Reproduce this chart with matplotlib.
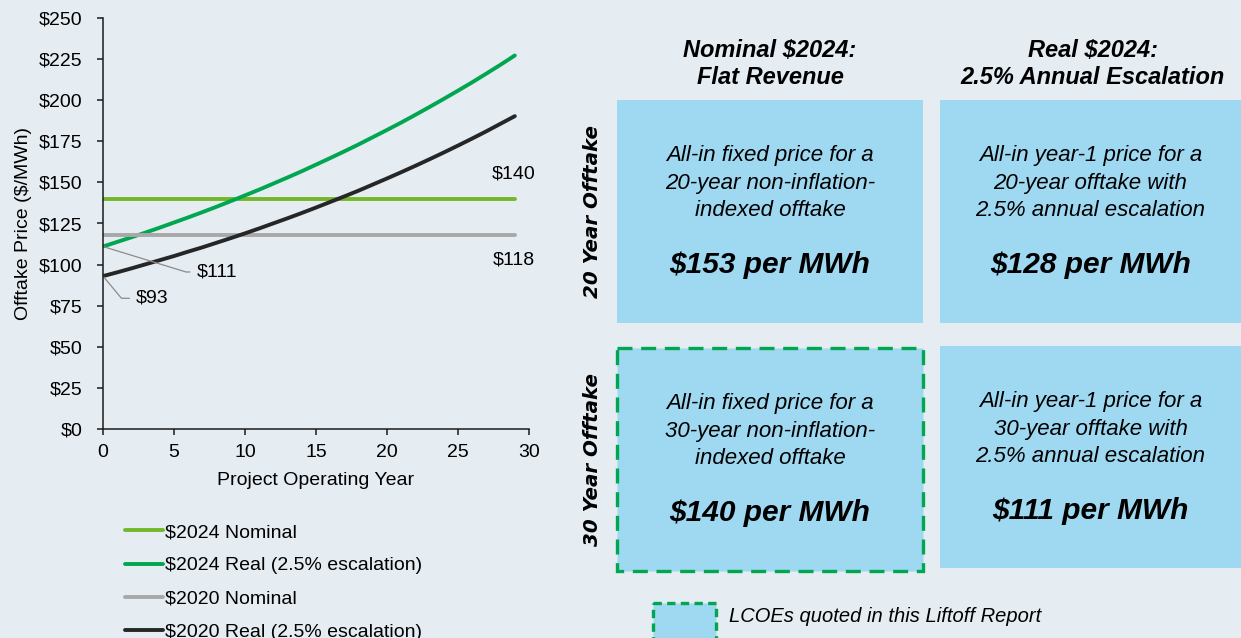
import matplotlib.pyplot as plt
from matplotlib.patches import Rectangle

plt.rcParams['font.family'] = ['Liberation Sans', 'DejaVu Sans']

# operating years 0..29
years = list(range(30))
nominal_2024 = [140] * 30
nominal_2020 = [118] * 30
real_2024 = [111.0, 113.8, 116.6, 119.5, 122.5, 125.6, 128.7, 131.9, 135.2, 138.6,
             142.1, 145.6, 149.3, 153.0, 156.8, 160.8, 164.8, 168.9, 173.1, 177.5,
             181.9, 186.4, 191.1, 195.9, 200.8, 205.8, 210.9, 216.2, 221.6, 227.2]
real_2020 = [93.0, 95.3, 97.7, 100.2, 102.7, 105.2, 107.9, 110.5, 113.3, 116.1,
             119.0, 122.0, 125.1, 128.2, 131.4, 134.7, 138.1, 141.5, 145.0, 148.7,
             152.4, 156.2, 160.1, 164.1, 168.2, 172.4, 176.7, 181.1, 185.7, 190.3]

series_names = ['$2024 Nominal', '$2024 Real (2.5% escalation)',
                '$2020 Nominal', '$2020 Real (2.5% escalation)']
series_colors = ['#74B72A', '#00A650', '#A8A8A8', '#262626']

col_titles = ['Nominal $2024:\nFlat Revenue', 'Real $2024:\n2.5% Annual Escalation']
row_titles = ['20 Year Offtake', '30 Year Offtake']
box_desc = [['All-in fixed price for a\n20-year non-inflation-\nindexed offtake',
             'All-in year-1 price for a\n20-year offtake with\n2.5% annual escalation'],
            ['All-in fixed price for a\n30-year non-inflation-\nindexed offtake',
             'All-in year-1 price for a\n30-year offtake with\n2.5% annual escalation']]
box_price = [['$153 per MWh', '$128 per MWh'],
             ['$140 per MWh', '$111 per MWh']]

BG = '#E5ECF2'
BOX = '#9FD8F1'
DASH = '#00A650'
W, H = 1241, 638
FS = 14

fig = plt.figure(figsize=(W / 100, H / 100), dpi=100, facecolor=BG)

# ---- line chart ----
ax = fig.add_axes([103 / W, 1 - 429 / H, 426 / W, 411 / H])
ax.set_facecolor(BG)
lines = []
for ys, name, c in zip([nominal_2024, real_2024, nominal_2020, real_2020], series_names, series_colors):
    ln, = ax.plot(years, ys, color=c, lw=2.8, label=name, solid_capstyle='round')
    lines.append(ln)

ax.set_xlim(0, 30)
ax.set_ylim(0, 250)
ax.set_xticks(range(0, 31, 5))
ax.set_yticks(range(0, 251, 25))
ax.set_yticklabels([f'${v}' for v in range(0, 251, 25)])
ax.tick_params(labelsize=FS, length=4, width=1.1, color='#1a1a1a')
ax.tick_params(axis='y', pad=11)
ax.tick_params(axis='x', pad=7)
for s in ['top', 'right']:
    ax.spines[s].set_visible(False)
for s in ['left', 'bottom']:
    ax.spines[s].set_linewidth(1.1)
    ax.spines[s].set_color('#1a1a1a')
ax.set_xlabel('Project Operating Year', fontsize=FS, labelpad=8)
ax.set_ylabel('Offtake Price ($/MWh)', fontsize=FS, labelpad=5)

# end-of-line labels
ax.text(28.9, nominal_2024[-1] + 15, f'${nominal_2024[-1]}', fontsize=FS, ha='center', va='center')
ax.text(28.9, nominal_2020[-1] - 15, f'${nominal_2020[-1]}', fontsize=FS, ha='center', va='center')
# start-of-line callouts
ax.plot([0, 5.85, 6.1], [real_2024[0], 95.5, 95.5], color='#8c8c8c', lw=0.9, clip_on=False)
ax.text(6.6, 95.5, f'${real_2024[0]:.0f}', fontsize=FS, va='center')
ax.plot([0, 1.3, 1.85], [real_2020[0], 79.5, 79.5], color='#8c8c8c', lw=0.9, clip_on=False)
ax.text(2.3, 79.5, f'${real_2020[0]:.0f}', fontsize=FS, va='center')

fig.legend(handles=lines, loc='upper left', bbox_to_anchor=(125 / W, 1 - 523.5 / H),
           frameon=False, fontsize=FS, handlelength=1.95, handletextpad=0.1,
           labelspacing=0.81, borderpad=0, borderaxespad=0)

# ---- right panel (pixel coordinates) ----
ov = fig.add_axes([0, 0, 1, 1], facecolor='none')
ov.set_xlim(0, W)
ov.set_ylim(H, 0)
ov.axis('off')

boxes = [[(617, 100, 306, 223), (940, 100, 301, 223)],
         [(617, 348, 306, 223), (940, 346, 301, 222)]]
for r in range(2):
    for c in range(2):
        x, y, w, h = boxes[r][c]
        dashed = (r == 1 and c == 0)
        ov.add_patch(Rectangle((x, y), w, h, facecolor=BOX,
                               edgecolor=DASH if dashed else 'none',
                               lw=2.4, linestyle=(0, (4.5, 2.6)) if dashed else '-'))
        cx = x + w / 2
        ov.text(cx, y + 83, box_desc[r][c], ha='center', va='center', fontsize=16,
                style='italic', linespacing=1.4)
        ov.text(cx, y + 165, box_price[r][c], ha='center', va='center', fontsize=21.5,
                style='italic', weight='bold')

for cx, t in zip([770, 1093], col_titles):
    ov.text(cx, 64, t, ha='center', va='center', fontsize=17, style='italic',
            weight='bold', linespacing=1.2)

for cy, t in zip([211, 459], row_titles):
    ov.text(592, cy, t, ha='center', va='center', rotation=90, fontsize=14.3,
            style='italic', weight='bold', family='DejaVu Sans')

ov.add_patch(Rectangle((653, 603), 63, 40, facecolor=BOX, edgecolor=DASH, lw=2.4,
                       linestyle=(0, (2.5, 1.6)), clip_on=False))
ov.text(729, 616, 'LCOEs quoted in this Liftoff Report', fontsize=14.5,
        style='italic', va='center')

fig.savefig('out.png', dpi=100, facecolor=BG)
